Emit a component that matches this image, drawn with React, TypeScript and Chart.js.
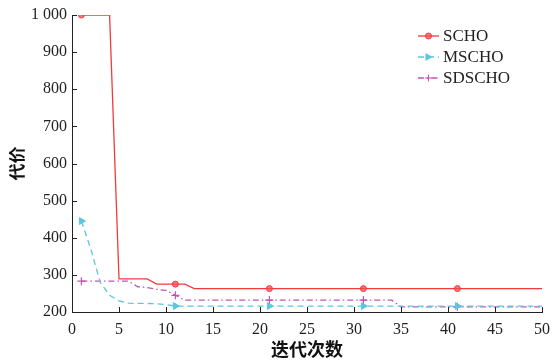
import React, { useEffect, useRef } from "react";
import { Chart, registerables } from "chart.js";

Chart.register(...registerables);

const iterations: number[] = Array.from({ length: 50 }, (_, i) => i + 1);

const schoValues: number[] = [
  1000, 1000, 1000, 1000, 289, 289, 289, 289, 275, 275,
  275, 275, 263, 263, 263, 263, 263, 263, 263, 263,
  263, 263, 263, 263, 263, 263, 263, 263, 263, 263,
  263, 263, 263, 263, 263, 263, 263, 263, 263, 263,
  263, 263, 263, 263, 263, 263, 263, 263, 263, 263,
];

const mschoValues: number[] = [
  445, 370, 280, 245, 230, 224, 223, 223, 222, 220,
  216, 216, 216, 216, 216, 216, 216, 216, 216, 216,
  216, 216, 216, 216, 216, 216, 216, 216, 216, 216,
  216, 216, 216, 216, 216, 216, 216, 216, 216, 216,
  216, 216, 216, 216, 216, 216, 216, 216, 216, 216,
];

const sdschoValues: number[] = [
  283, 283, 283, 283, 283, 283, 268, 266, 261, 258,
  245, 232, 232, 232, 232, 232, 232, 232, 232, 232,
  232, 232, 232, 232, 232, 232, 232, 232, 232, 232,
  232, 232, 232, 232, 214, 214, 214, 214, 214, 214,
  214, 214, 214, 214, 214, 214, 214, 214, 214, 214,
];

const seriesNames: string[] = ["SCHO", "MSCHO", "SDSCHO"];
const xTitle = "迭代次数";
const yTitle = "代价";

const RED = "#f23a3a";
const CYAN = "#5cc6df";
const MAGENTA = "#c056b4";

const SERIF = "'Liberation Serif', 'DejaVu Serif', serif";
const CJK = "'Noto Sans CJK SC', sans-serif";

const markerAt = (r: number) => (ctx: any) => (ctx.dataIndex % 10 === 0 ? r : 0);

export default function App() {
  const ref = useRef<HTMLCanvasElement | null>(null);

  useEffect(() => {
    document.body.style.margin = "0";
    const canvas = ref.current;
    if (!canvas) return;

    const toPts = (vals: number[]) => vals.map((v, i) => ({ x: iterations[i], y: v }));

    const inwardTicks = {
      id: "inwardTicks",
      afterDraw(chart: any) {
        const c = chart.ctx;
        const xs = chart.scales.x;
        const ys = chart.scales.y;
        const area = chart.chartArea;
        c.save();
        c.strokeStyle = "#222";
        c.lineWidth = 1;
        xs.ticks.forEach((t: any) => {
          const px = Math.round(xs.getPixelForValue(t.value)) + 0.5;
          c.beginPath();
          c.moveTo(px, area.bottom);
          c.lineTo(px, area.bottom - 5);
          c.stroke();
        });
        ys.ticks.forEach((t: any) => {
          const py = Math.round(ys.getPixelForValue(t.value)) + 0.5;
          c.beginPath();
          c.moveTo(area.left, py);
          c.lineTo(area.left + 5, py);
          c.stroke();
        });
        c.restore();
      },
    };

    const customLegend = {
      id: "customLegend",
      afterDraw(chart: any) {
        const c = chart.ctx;
        const x0 = 418;
        const x1 = 439;
        const ys = [36, 57, 78];
        c.save();
        chart.data.datasets.forEach((ds: any, i: number) => {
          const y = ys[i];
          c.strokeStyle = ds.borderColor;
          c.lineWidth = ds.borderWidth;
          c.setLineDash(ds.borderDash || []);
          c.beginPath();
          c.moveTo(x0, y);
          c.lineTo(x1, y);
          c.stroke();
          c.setLineDash([]);
          const mx = (x0 + x1) / 2;
          c.fillStyle = ds.pointBackgroundColor;
          c.strokeStyle = ds.pointBorderColor;
          c.lineWidth = 1;
          if (ds.pointStyle === "circle") {
            c.beginPath();
            c.arc(mx, y, 3, 0, Math.PI * 2);
            c.fill();
            c.stroke();
          } else if (ds.pointStyle === "triangle") {
            c.beginPath();
            c.moveTo(mx + 4, y);
            c.lineTo(mx - 3, y - 4);
            c.lineTo(mx - 3, y + 4);
            c.closePath();
            c.fill();
          } else {
            c.beginPath();
            c.moveTo(mx - 3.5, y);
            c.lineTo(mx + 3.5, y);
            c.moveTo(mx, y - 3.5);
            c.lineTo(mx, y + 3.5);
            c.stroke();
          }
          c.fillStyle = "#222";
          c.font = `17px ${SERIF}`;
          c.textAlign = "left";
          c.textBaseline = "middle";
          c.fillText(ds.label, 443, y + 1);
        });
        c.restore();
      },
    };

    const chart = new Chart(canvas, {
      type: "line",
      data: {
        datasets: [
          {
            label: seriesNames[0],
            data: toPts(schoValues),
            borderColor: RED,
            borderWidth: 1.3,
            pointStyle: "circle",
            pointRadius: markerAt(3),
            pointBackgroundColor: "rgba(242,80,80,0.75)",
            pointBorderColor: RED,
            pointBorderWidth: 1,
            tension: 0,
          },
          {
            label: seriesNames[1],
            data: toPts(mschoValues),
            borderColor: CYAN,
            borderWidth: 1.3,
            borderDash: [6, 4],
            pointStyle: "triangle",
            rotation: 90,
            pointRadius: markerAt(4),
            pointBackgroundColor: CYAN,
            pointBorderColor: CYAN,
            pointBorderWidth: 1,
            tension: 0,
          },
          {
            label: seriesNames[2],
            data: toPts(sdschoValues),
            borderColor: MAGENTA,
            borderWidth: 1.3,
            borderDash: [6, 3, 1.5, 3],
            pointStyle: "cross",
            pointRadius: markerAt(4),
            pointBackgroundColor: MAGENTA,
            pointBorderColor: MAGENTA,
            pointBorderWidth: 1.2,
            tension: 0,
          },
        ],
      },
      options: {
        responsive: false,
        animation: false,
        layout: { padding: { top: 15, right: 10, left: 0, bottom: 0 } },
        plugins: {
          legend: { display: false },
          tooltip: { enabled: false },
        },
        scales: {
          x: {
            type: "linear",
            min: 0,
            max: 50,
            grid: { display: false, drawTicks: false },
            border: { display: true, color: "#222", width: 1 },
            ticks: {
              stepSize: 5,
              color: "#222",
              padding: 8,
              maxRotation: 0,
              font: { family: SERIF, size: 16 },
            },
            title: {
              display: true,
              text: xTitle,
              color: "#111",
              padding: { top: 0, bottom: 0 },
              font: { family: CJK, size: 18, weight: "bold" },
            },
            afterFit(scale: any) {
              scale.height = 48;
              scale.paddingRight = 0;
              scale.paddingLeft = 0;
            },
          },
          y: {
            min: 200,
            max: 1000,
            grid: { display: false, drawTicks: false },
            border: { display: true, color: "#222", width: 1 },
            ticks: {
              stepSize: 100,
              color: "#222",
              padding: 5,
              font: { family: SERIF, size: 16 },
              callback: (v: any) => (Number(v) >= 1000 ? "1 000" : String(v)),
            },
            title: {
              display: true,
              text: yTitle,
              color: "#111",
              padding: { top: 6, bottom: 0 },
              font: { family: CJK, size: 17, weight: "bold" },
            },
            afterFit(scale: any) {
              scale.width = 72;
            },
          },
        },
      },
      plugins: [inwardTicks, customLegend],
    } as any);

    return () => chart.destroy();
  }, []);

  return (
    <div style={{ position: "absolute", left: 0, top: 0, width: 552, height: 360, background: "#fff" }}>
      <canvas ref={ref} width={552} height={360} />
    </div>
  );
}
